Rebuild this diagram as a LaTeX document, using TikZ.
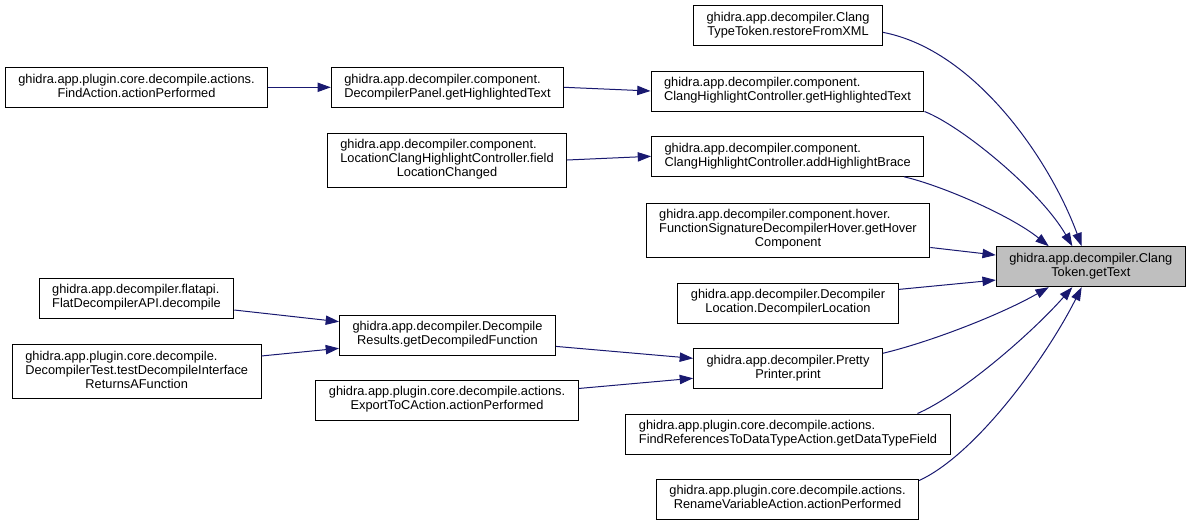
\documentclass[tikz,border=0pt]{standalone}
\usepackage{fontspec}
\setmainfont{Liberation Sans}
\usetikzlibrary{arrows.meta}
\newcommand\fnname[2]{\begin{tabular}{@{}l@{}}#1\\\multicolumn{1}{@{}c@{}}{#2}\end{tabular}}
\tikzset{
  func/.style={draw=black, fill=white, line width=0.75pt, align=center,
    inner xsep=9.75pt, inner ysep=0pt, minimum height=30pt, font=\fontsize{9.6}{10.5}\selectfont},
  func3/.style={func, minimum height=40.5pt},
  curfunc/.style={func, fill={rgb,255:red,191;green,191;blue,191}},
  call/.style={draw={rgb,255:red,25;green,25;blue,112}, line width=0.75pt, -{Triangle[length=10pt,width=7pt]}}
}
\begin{document}
\begin{tikzpicture}[x=0.75pt,y=0.75pt,yscale=-1,xscale=1]
\useasboundingbox (0,0) rectangle (1189,525);
\node[curfunc] (tgt) at (1090.8,266.7) {\fnname{ghidra.app.decompiler.Clang}{Token.getText}};
\node[func] (rfx) at (788,25.7) {\fnname{ghidra.app.decompiler.Clang}{TypeToken.restoreFromXML}};
\node[func] (cght) at (787.5,91) {\fnname{ghidra.app.decompiler.component.}{ClangHighlightController.getHighlightedText}};
\node[func] (cahb) at (787.7,156.3) {\fnname{ghidra.app.decompiler.component.}{ClangHighlightController.addHighlightBrace}};
\node[func3] (hover) at (788,230) {\fnname{ghidra.app.decompiler.component.hover.\\FunctionSignatureDecompilerHover.getHover}{Component}};
\node[func] (dloc) at (788,303) {\fnname{ghidra.app.decompiler.Decompiler}{Location.DecompilerLocation}};
\node[func] (pp) at (788,368.3) {\fnname{ghidra.app.decompiler.Pretty}{Printer.print}};
\node[func] (frdt) at (788,434) {\fnname{ghidra.app.plugin.core.decompile.actions.}{FindReferencesToDataTypeAction.getDataTypeField}};
\node[func] (rva) at (787.5,499) {\fnname{ghidra.app.plugin.core.decompile.actions.}{RenameVariableAction.actionPerformed}};
\node[func] (fa) at (136.5,87.3) {\fnname{ghidra.app.plugin.core.decompile.actions.}{FindAction.actionPerformed}};
\node[func] (dpht) at (447.5,87.3) {\fnname{ghidra.app.decompiler.component.}{DecompilerPanel.getHighlightedText}};
\node[func3] (lchc) at (447,160) {\fnname{ghidra.app.decompiler.component.\\LocationClangHighlightController.field}{LocationChanged}};
\node[func] (flat) at (136.5,298) {\fnname{ghidra.app.decompiler.flatapi.}{FlatDecompilerAPI.decompile}};
\node[func3] (dtest) at (136.7,371.3) {\fnname{ghidra.app.plugin.core.decompile.\\DecompilerTest.testDecompileInterface}{ReturnsAFunction}};
\node[func] (dres) at (447.5,335) {\fnname{ghidra.app.decompiler.Decompile}{Results.getDecompiledFunction}};
\node[func] (exp) at (447,400) {\fnname{ghidra.app.plugin.core.decompile.actions.}{ExportToCAction.actionPerformed}};
\draw[call] (fa.east) -- (dpht.west);
\draw[call] (dpht.east) -- (cght.west);
\draw[call] (lchc.east) -- (cahb.west);
\draw[call] (flat.-7) -- (dres.173);
\draw[call] (dtest.7) -- (dres.187);
\draw[call] (dres.-6) -- (pp.174);
\draw[call] (exp.5) -- (pp.186);
\draw[call] (rfx.-4) .. controls (975,50) and (1050,160) .. (tgt.114);
\draw[call] (cght.south east) .. controls (960,125) and (1040,190) .. (tgt.132);
\draw[call] (cahb.-10) .. controls (940,185) and (1010,215) .. (tgt.154);
\draw[call] (hover.-7) -- (tgt.173);
\draw[call] (dloc.7) -- (tgt.188);
\draw[call] (pp.9) .. controls (930,342) and (1000,315) .. (tgt.206);
\draw[call] (frdt.9) .. controls (960,395) and (1030,335) .. (tgt.228);
\draw[call] (rva.8) .. controls (975,455) and (1045,360) .. (tgt.246);
\end{tikzpicture}
\end{document}
